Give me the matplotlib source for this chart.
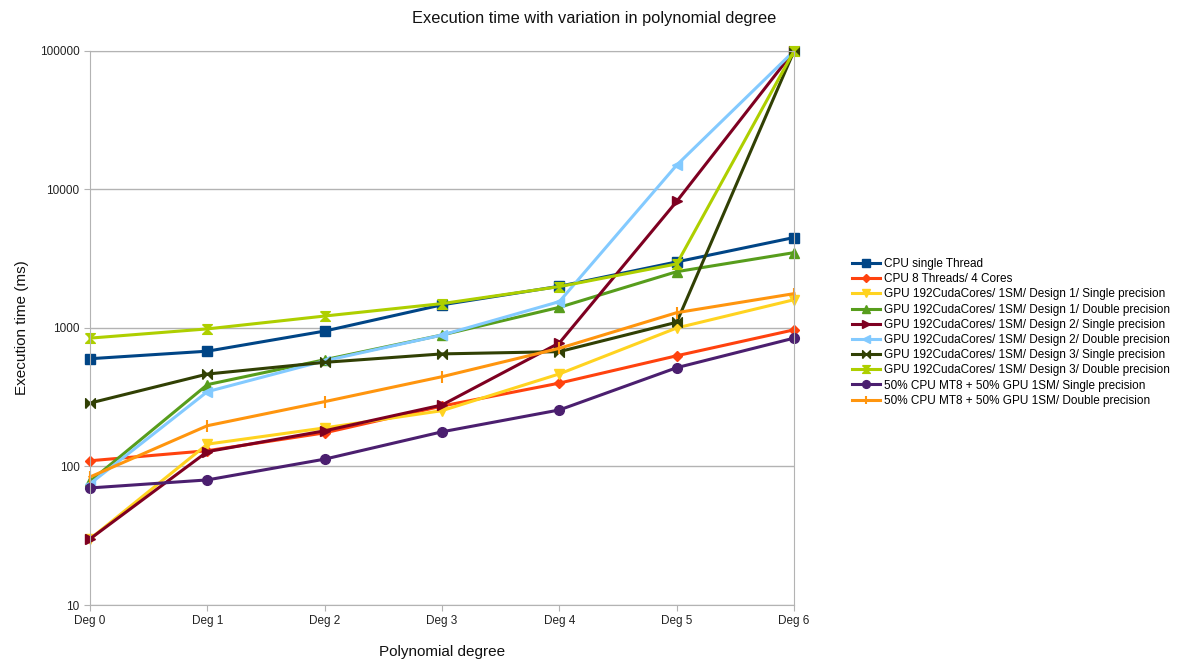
import numpy as np
import matplotlib
matplotlib.use("Agg")
import matplotlib.pyplot as plt

plt.rcParams['font.family'] = ['Liberation Sans', 'DejaVu Sans']

degrees = ['Deg 0', 'Deg 1', 'Deg 2', 'Deg 3', 'Deg 4', 'Deg 5', 'Deg 6']

cpu_single = [600, 680, 950, 1470, 2000, 3000, 4500]
cpu_mt8 = [110, 130, 175, 273, 400, 630, 970]
gpu_d1_single = [30, 145, 190, 253, 466, 1000, 1600]
gpu_d1_double = [78, 390, 590, 890, 1410, 2550, 3500]
gpu_d2_single = [30, 128, 181, 278, 780, 8200, 100000]
gpu_d2_double = [75, 347, 580, 889, 1550, 15000, 100000]
gpu_d3_single = [287, 465, 565, 650, 675, 1100, 100000]
gpu_d3_double = [845, 985, 1220, 1500, 1990, 2900, 100000]
hybrid_single = [70, 80, 113, 178, 256, 517, 845]
hybrid_double = [84, 197, 294, 445, 713, 1290, 1770]

labels = [
    'CPU single Thread',
    'CPU 8 Threads/ 4 Cores',
    'GPU 192CudaCores/ 1SM/ Design 1/ Single precision',
    'GPU 192CudaCores/ 1SM/ Design 1/ Double precision',
    'GPU 192CudaCores/ 1SM/ Design 2/ Single precision',
    'GPU 192CudaCores/ 1SM/ Design 2/ Double precision',
    'GPU 192CudaCores/ 1SM/ Design 3/ Single precision',
    'GPU 192CudaCores/ 1SM/ Design 3/ Double precision',
    '50% CPU MT8 + 50% GPU 1SM/ Single precision',
    '50% CPU MT8 + 50% GPU 1SM/ Double precision',
]
series = [cpu_single, cpu_mt8, gpu_d1_single, gpu_d1_double, gpu_d2_single,
          gpu_d2_double, gpu_d3_single, gpu_d3_double, hybrid_single, hybrid_double]
colors = ['#004586', '#ff420e', '#ffd320', '#579d1c', '#7e0021',
          '#83caff', '#314004', '#aecf00', '#4b1f6f', '#ff950e']

# bowtie / hourglass symbols
bowtie = [(-1, -1), (1, 1), (1, -1), (-1, 1), (-1, -1)]
hourglass = [(-1, 1), (1, 1), (-1, -1), (1, -1), (-1, 1)]
markers = ['s', 'D', 'v', '^', '>', '<', bowtie, hourglass, 'o', '|']
sizes = [7, 5, 7, 7, 7, 7, 7, 7, 7, 8]

fig = plt.figure(figsize=(12, 6.62), dpi=100)
ax = fig.add_axes([0.075, 0.0861, 0.5867, 0.8369])

x = np.arange(len(degrees))
for vals, lab, c, m, s in zip(series, labels, colors, markers, sizes):
    ax.plot(x, vals, color=c, lw=2.2, marker=m, ms=s, mew=1.5 if m == '|' else 1,
            mec=c, mfc=c, label=lab, clip_on=False)

ax.set_yscale('log')
ax.set_ylim(10, 100000)
ax.set_xlim(0, 6)
ax.set_yticks([10, 100, 1000, 10000, 100000])
ax.set_yticklabels(['10', '100', '1000', '10000', '100000'])
ax.yaxis.set_minor_locator(matplotlib.ticker.NullLocator())
ax.set_xticks(x)
ax.set_xticklabels(degrees)
ax.tick_params(labelsize=8.5, colors='#b3b3b3', labelcolor='#222222', length=4)
ax.grid(axis='y', color='#b3b3b3', lw=1)
ax.set_axisbelow(True)
for sp in ax.spines.values():
    sp.set_color('#b3b3b3')

ax.set_xlabel('Polynomial degree', fontsize=11, color='#111111', labelpad=13)
ax.set_ylabel('Execution time (ms)', fontsize=11, color='#111111', labelpad=8)
fig.text(0.495, 0.972, 'Execution time with variation in polynomial degree',
         ha='center', va='center', fontsize=11.8, color='#111111')

ax.legend(loc='center left', bbox_to_anchor=(1.075, 0.492), frameon=False,
          fontsize=8.5, handlelength=2.4, handletextpad=0.35, labelspacing=0.27,
          markerscale=0.8, borderaxespad=0)

fig.savefig('out.png', dpi=100)
